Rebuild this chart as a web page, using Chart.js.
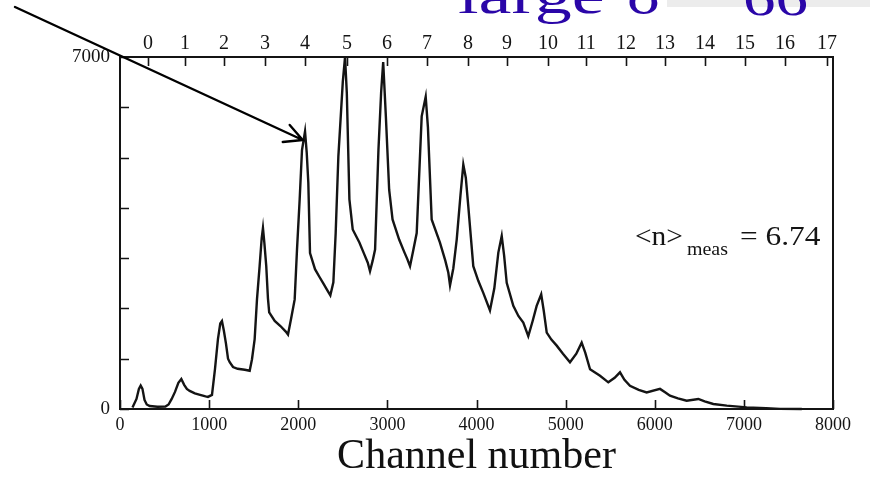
<!DOCTYPE html>
<html>
<head>
<meta charset="utf-8">
<script src="https://cdn.jsdelivr.net/npm/chart.js@4.4.1/dist/chart.umd.min.js"></script>
<style>
  html, body { margin: 0; padding: 0; background: #ffffff; }
  #wrap { position: relative; width: 870px; height: 482px; }
  canvas { display: block; }
</style>
</head>
<body>
<div id="wrap"><canvas id="spectrum" width="870" height="482"></canvas></div>
<script>
// Pulse-height spectrum: counts per ADC channel
const channels = [140,185,212,232,252,275,300,333,420,510,545,580,617,655,688,720,750,782,840,898,960,987,1032,1066,1099,1125,1144,1165,1189,1212,1231,1268,1320,1400,1455,1481,1511,1537,1567,1590,1604,1620,1641,1660,1674,1736,1800,1860,1885,1919,1960,1986,2016,2042,2076,2095,2113,2132,2188,2240,2281,2330,2360,2394,2420,2450,2500,2525,2545,2574,2611,2686,2740,2780,2805,2835,2862,2900,2930,2953,2983,3020,3058,3132,3190,3225,3254,3290,3329,3385,3430,3455,3497,3590,3650,3684,3703,3740,3778,3820,3852,3880,3908,3964,4020,4076,4151,4200,4245,4283,4310,4339,4413,4470,4525,4581,4630,4675,4726,4755,4788,4840,4900,4970,5049,5120,5180,5220,5274,5386,5479,5550,5610,5660,5722,5820,5909,6059,6120,6171,6260,6358,6489,6560,6657,6808,7032,7250,7405,7650];
const counts   = [30,200,400,465,400,180,90,60,45,50,90,200,340,520,595,480,400,360,310,280,250,240,280,800,1390,1700,1750,1560,1300,1000,930,835,800,780,760,990,1390,2180,2850,3400,3600,3300,2840,2200,1920,1750,1650,1540,1480,1790,2180,3170,4170,5150,5520,5100,4500,3100,2780,2620,2500,2350,2260,2520,3500,5020,6510,7000,6280,4170,3570,3310,3080,2910,2740,2950,3170,5160,6300,6900,5820,4360,3770,3370,3120,2975,2840,3150,3500,5820,6210,5600,3770,3310,2950,2710,2460,2800,3370,4250,4860,4600,4030,2840,2550,2310,1960,2400,3110,3440,3050,2510,2050,1850,1720,1450,1750,2050,2280,1950,1520,1380,1260,1100,930,1100,1320,1120,790,660,530,620,730,580,460,380,330,400,330,265,210,165,200,150,100,66,33,15,3,0];

// Axis ticks
const channelTicks = [0, 1000, 2000, 3000, 4000, 5000, 6000, 7000, 8000];
const countTicks   = [0, 1000, 2000, 3000, 4000, 5000, 6000, 7000];
const countTickLabels = ['0', '', '', '', '', '', '', '7000'];

// Photoelectron peak numbers along the top axis, at their channel positions
const peakNumbers  = ['0','1','2','3','4','5','6','7','8','9','10','11','12','13','14','15','16','17'];
const peakChannels = [314,729,1167,1627,2076,2547,2996,3445,3905,4342,4802,5229,5677,6115,6564,7013,7461,7933];

const meanPhotons = '6.74';
const arrowTarget = { channel: 2050, count: 5350 };

const SERIF = "'Liberation Serif', 'Times New Roman', serif";
const INK = '#141414';

// Frame and inward-pointing tick marks
const framePlugin = {
  id: 'frame',
  afterDatasetsDraw(chart) {
    const { ctx, chartArea: a, scales } = chart;
    ctx.save();
    ctx.strokeStyle = INK;
    ctx.lineWidth = 1.6;
    ctx.beginPath();
    scales.x.ticks.forEach(t => {
      const px = Math.round(scales.x.getPixelForValue(t.value)) + 0.5;
      ctx.moveTo(px, a.bottom); ctx.lineTo(px, a.bottom - 9);
    });
    scales.x2.ticks.forEach(t => {
      const px = Math.round(scales.x2.getPixelForValue(t.value)) + 0.5;
      ctx.moveTo(px, a.top); ctx.lineTo(px, a.top + 9);
    });
    scales.y.ticks.forEach(t => {
      const py = Math.round(scales.y.getPixelForValue(t.value)) + 0.5;
      ctx.moveTo(a.left, py); ctx.lineTo(a.left + 9, py);
    });
    ctx.stroke();
    ctx.lineWidth = 2;
    ctx.strokeRect(a.left, a.top, a.right - a.left, a.bottom - a.top);
    ctx.restore();
  }
};

// Text labels, heading and pointer arrow
const notesPlugin = {
  id: 'notes',
  beforeDraw(chart) {
    const { ctx } = chart;
    ctx.save();
    ctx.fillStyle = '#ececec';
    ctx.fillRect(667, 0, 203, 7);
    ctx.restore();
  },
  afterDraw(chart) {
    const { ctx, scales } = chart;
    ctx.save();

    // heading (runs off the top edge)
    ctx.fillStyle = '#2a06a8';
    ctx.font = '50px ' + SERIF;
    ctx.textBaseline = 'alphabetic';
    const drawWide = (txt, x, y, sx) => {
      ctx.save(); ctx.translate(x, y); ctx.scale(sx, 1); ctx.fillText(txt, 0, 0); ctx.restore();
    };
    drawWide('large', 458, 13, 1.48);
    drawWide('σ', 627, 14, 1.3);
    drawWide('~', 680, 2, 1.3);
    drawWide('66', 743, 15, 1.3);

    // mean photoelectron number
    ctx.fillStyle = INK;
    ctx.font = '28px ' + SERIF;
    drawWide('<n>', 635, 245, 1.05);
    ctx.font = '19px ' + SERIF;
    drawWide('meas', 687, 255, 1.05);
    ctx.font = '28px ' + SERIF;
    drawWide('= ' + meanPhotons, 740, 245, 1.12);

    // pointer arrow to the n = 4 peak
    const tx = scales.x.getPixelForValue(arrowTarget.channel);
    const ty = scales.y.getPixelForValue(arrowTarget.count);
    ctx.strokeStyle = '#000';
    ctx.lineWidth = 2.4;
    ctx.lineCap = 'round';
    ctx.beginPath();
    ctx.moveTo(15, 7);
    ctx.lineTo(tx, ty);
    ctx.moveTo(tx - 13, ty - 15);
    ctx.lineTo(tx, ty);
    ctx.lineTo(tx - 20, ty + 2);
    ctx.stroke();
    ctx.restore();
  }
};

new Chart(document.getElementById('spectrum'), {
  type: 'line',
  data: {
    datasets: [{
      data: channels.map((c, i) => ({ x: c, y: counts[i] })),
      borderColor: INK,
      borderWidth: 2.4,
      pointRadius: 0,
      tension: 0,
      fill: false,
      clip: false
    }]
  },
  options: {
    responsive: false,
    animation: false,
    devicePixelRatio: 1,
    layout: { padding: { left: 0, right: 37, top: 0, bottom: 0 } },
    plugins: { legend: { display: false }, tooltip: { enabled: false }, title: { display: false } },
    scales: {
      x: {
        type: 'linear', position: 'bottom', min: 0, max: 8000,
        afterBuildTicks: s => { s.ticks = channelTicks.map(v => ({ value: v })); },
        afterFit: s => { s.height = 73; },
        grid: { display: false, drawTicks: false },
        border: { display: false },
        ticks: {
          color: INK, padding: 5, maxRotation: 0, autoSkip: false,
          font: { family: SERIF, size: 18 },
          callback: v => String(v)
        },
        title: {
          display: true, text: 'Channel number', color: '#111',
          font: { family: SERIF, size: 42 }, padding: { top: 0, bottom: 0 }
        }
      },
      x2: {
        type: 'linear', position: 'top', min: 0, max: 8000,
        afterBuildTicks: s => { s.ticks = peakChannels.map(v => ({ value: v })); },
        afterFit: s => { s.height = 57; },
        grid: { display: false, drawTicks: false },
        border: { display: false },
        ticks: {
          color: INK, padding: 1, maxRotation: 0, autoSkip: false,
          font: { family: SERIF, size: 20 },
          callback: (v, i) => peakNumbers[i]
        }
      },
      y: {
        type: 'linear', position: 'left', min: 0, max: 7000,
        afterBuildTicks: s => { s.ticks = countTicks.map(v => ({ value: v })); },
        afterFit: s => { s.width = 120; },
        grid: { display: false, drawTicks: false },
        border: { display: false },
        ticks: {
          color: INK, padding: 10, autoSkip: false,
          font: { family: SERIF, size: 19 },
          callback: (v, i) => countTickLabels[i]
        }
      }
    }
  },
  plugins: [framePlugin, notesPlugin]
});
</script>
</body>
</html>
